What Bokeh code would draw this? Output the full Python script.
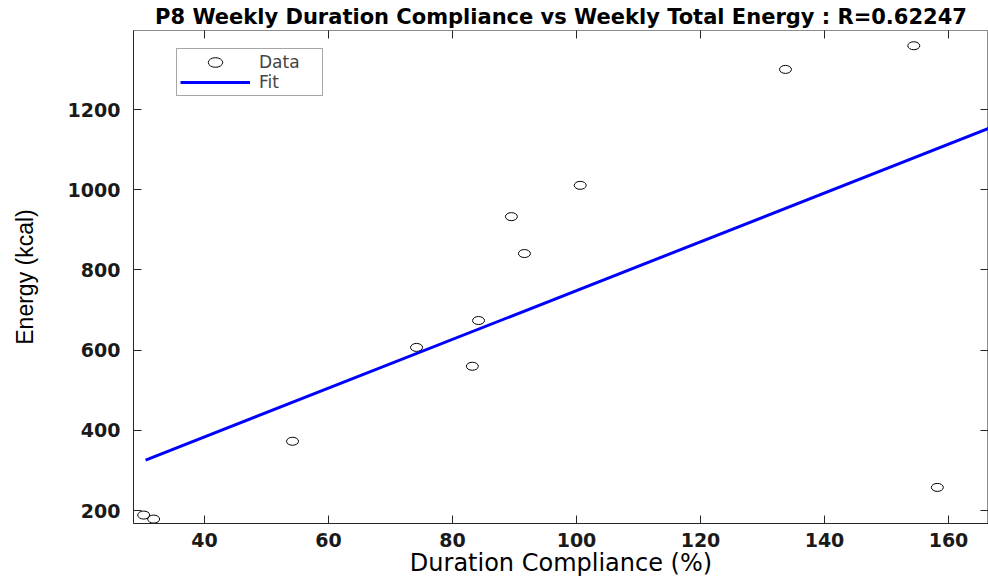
from bokeh.plotting import figure
from bokeh.models import (ColumnDataSource, Range1d, FixedTicker, LinearAxis,
                          Legend, LegendItem, Title)
from bokeh.embed import file_html
from bokeh.resources import INLINE

# ---- data ----
compliance = [30.2, 31.8, 54.2, 74.2, 83.2, 84.2, 89.5, 91.6, 100.6, 133.7, 154.4, 158.2]
energy = [189, 179, 373, 607, 560, 674, 933, 841, 1011, 1300, 1359, 258]
fit_x = [30.5, 166.5]
fit_y = [326, 1153]
x_ticks = [40, 60, 80, 100, 120, 140, 160]
y_ticks = [200, 400, 600, 800, 1000, 1200]
title_text = "P8 Weekly Duration Compliance vs Weekly Total Energy : R=0.62247"

axis_col = "#262626"
box_col = "#8c8c8c"
font = "DejaVu Sans"

p = figure(width=988, height=582, output_backend="svg", toolbar_location=None,
           x_range=Range1d(28.55, 166.45), y_range=Range1d(168, 1397),
           min_border_left=133, min_border_right=0, min_border_top=29,
           min_border_bottom=59)
p.grid.visible = False
p.background_fill_color = "white"
p.border_fill_color = "white"
p.outline_line_color = box_col
p.outline_line_width = 1

src = ColumnDataSource(dict(x=compliance, y=energy))
fsrc = ColumnDataSource(dict(x=fit_x, y=fit_y))

r_data = p.ellipse(x="x", y="y", width=12, height=8, width_units="screen",
                   height_units="screen", source=src, fill_color=None,
                   line_color="black", line_width=1)
r_fit = p.line(x="x", y="y", source=fsrc, line_color="#0000ff", line_width=3)

for ax in (p.xaxis[0], p.yaxis[0]):
    ax.axis_line_color = axis_col
    ax.major_tick_line_color = axis_col
    ax.major_tick_in = 8
    ax.major_tick_out = 0
    ax.minor_tick_line_color = None
    ax.major_label_text_font = font
    ax.major_label_text_font_size = "19px"
    ax.major_label_text_font_style = "bold"
    ax.major_label_text_color = "#1a1a1a"
    ax.axis_label_text_font_style = "normal"
    ax.axis_label_text_color = "black"

p.xaxis[0].ticker = FixedTicker(ticks=x_ticks)
p.yaxis[0].ticker = FixedTicker(ticks=y_ticks)
p.xaxis[0].major_label_standoff = 9
p.yaxis[0].major_label_standoff = 13
p.xaxis[0].axis_label = "Duration Compliance (%)"
p.xaxis[0].axis_label_text_font = font
p.xaxis[0].axis_label_text_font_size = "24px"
p.xaxis[0].axis_label_standoff = -1
p.yaxis[0].axis_label = "Energy (kcal)"
p.yaxis[0].axis_label_text_font = "Liberation Sans"
p.yaxis[0].axis_label_text_font_size = "23px"
p.yaxis[0].axis_label_standoff = 27

# top and right axes: inward ticks only, no labels
top = LinearAxis(ticker=FixedTicker(ticks=x_ticks), major_tick_in=8, major_tick_out=0,
                 major_label_text_color=None, major_label_standoff=0,
                 axis_line_color=box_col, major_tick_line_color=axis_col,
                 minor_tick_line_color=None)
right = LinearAxis(ticker=FixedTicker(ticks=y_ticks), major_tick_in=8, major_tick_out=0,
                   major_label_text_color=None, major_label_standoff=0,
                   axis_line_color=box_col, major_tick_line_color=axis_col,
                   minor_tick_line_color=None)
p.add_layout(top, "above")
p.add_layout(right, "right")

p.title = Title(text=title_text, align="center", text_font=font, text_font_style="bold",
                text_font_size="21px", text_color="black", offset=0, standoff=4)

legend = Legend(items=[LegendItem(label="Data", renderers=[r_data]),
                       LegendItem(label="Fit", renderers=[r_fit])],
                location=(43, 427), label_text_font=font, label_text_font_size="17px",
                glyph_width=70, glyph_height=18, label_height=18, label_width=60,
                label_standoff=9, spacing=0, padding=3, margin=0,
                border_line_color="#4d4d4d", border_line_width=1,
                background_fill_color="white")
p.add_layout(legend, "center")

open("out.html", "w").write(file_html(p, INLINE))
